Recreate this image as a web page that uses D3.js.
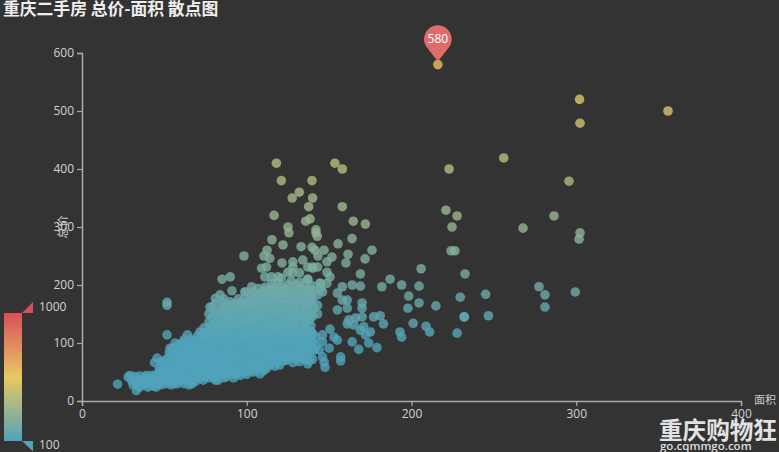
<!DOCTYPE html>
<html><head><meta charset="utf-8">
<script src="https://cdn.jsdelivr.net/npm/d3@7"></script>
<style>html,body{margin:0;padding:0;background:#333;overflow:hidden}svg{display:block}text{font-family:"Open Sans","Noto Sans CJK SC",sans-serif}</style>
</head><body><svg id="c" width="779" height="452"></svg>
<script>
const titleText = "重庆二手房 总价-面积 散点图";
const xTicks = [0,100,200,300,400];
const yTicks = [0,100,200,300,400,500,600];
const xName = "面积", yName = "总价";
const mapStops = [100,550,1000];
const mapColors = ["#50a3ba","#e9c860","#d94e5d"];
const peak = [216,580];
const denseCloud = [
[28,41],[30,36],[31,28],[29,44],[33,18],[33,30],[32,42],[35,24],[36,34],[35,43],[37,28],[38,40],[40,24],[41,32],[42,44],[40,38],[43,26],
[45,24],[46,35],[45,46],[47,56],[44,66],[45.6,74],[48,28],[48.5,40],[49,62],[51,30],[52,42],[50,52],[51,72],[53,84],[53.4,91],[54,28],[55,37],[55,50],[55,62],[56,76],[56.5,100],[55,90],
[58,30],[59,42],[60,54],[59,66],[60,78],[59,90],[61,100],[62,30],[63,44],[63,58],[64,72],[64,86],[64,100],[64,114],[65,28],
[67,36],[68,48],[68,62],[68,76],[68,90],[68,104],[71,40],[72,54],[72,68],[71,82],[72,96],[71.6,119],[72,108],[73.6,36],
[75,44],[76,58],[76,72],[75,86],[76,100],[75,114],[77.7,128],[79,131],[79,48],[80,40],[80,62],[80,76],[79,90],[80,104],[80,118],[79,145],[77.7,162],[79,162],[82,148],[81,177],
[82.6,36],[84,46],[84,60],[85,74],[84,88],[85,102],[84,116],[85,130],[84,142],[85,156],[83.8,183],[85,170],[88,42],[88,56],[89,70],[88,84],[89,98],[88,112],[89,126],[88,140],[89,154],[88,166],
[92,40],[93,54],[92,68],[93,82],[92,96],[93,110],[92,124],[93,138],[92,152],[93,169],[90,171],[96,44],[97,58],[96,72],[97,86],[96,100],[97,114],[96,128],[97,142],[96,156],[97,170],[99,177],[99,188],
[100,46],[101,60],[100,74],[101,88],[100,102],[101,116],[100,130],[101,144],[100,158],[101,170],[104,188],[103,197],[104,50],[105,64],[104,78],[105,92],[104,106],[105,120],[104,134],[105,148],[104,162],[105,176],
[108,47],[109,60],[108,72],[109,86],[108,100],[109,114],[108,128],[109,142],[108,156],[108,171],[109,185],[112,56],[113,70],[112,84],[113,98],[112,112],[113,126],[112,140],[113,154],[112,168],[113,182],[111,196],
[117,60],[116,74],[117,88],[116,102],[117,116],[116,130],[117,144],[116,158],[117,172],[116,191],[116,195],[120,62],[121,76],[120,90],[121,104],[120,118],[121,132],[120,146],[121,160],[120,174],[121,197],[121,186],
[124,70],[125,84],[124,98],[125,112],[124,126],[125,140],[124,154],[125,168],[124,186],[125,200],[128,66],[129,80],[128,94],[129,108],[128,122],[129,136],[128,150],[129,164],[128,178],[130,192],[130,200],
[132,68],[133,82],[132,96],[133,110],[132,124],[133,138],[132,152],[133,166],[132,180],[132,205],[134,192],[137,64],[136,78],[137,92],[136,106],[137,120],[136,134],[137,148],[136,162],[137,176],[137,190],[137,210],
[140,72],[141,88],[140,100],[140,116],[139,130],[140,146],[141,160],[140,172],[141,190],[144,88],[144.5,203],[148.7,203],[146,188]
];
const denseFill = [
[31,36],[34,37],[37,34],[39,30],[39,44],[42,38],[44,30],[46,29],[47,42],[47,50],[48,68],[49,50],[50,38],[52,36],[52,60],[53,48],[53,76],[54,68],
[57,34],[57,46],[57,58],[57,70],[57,84],[58,96],[60,36],[61,48],[61,60],[61,72],[61,84],[62,92],[62,106],[63,38],[65,36],[66,50],[66,64],[66,78],[66,92],[66,106],[67,30],
[69,42],[70,55],[70,69],[70,83],[70,97],[70,112],[73,47],[74,61],[74,75],[74,89],[74,103],[74,118],[74,126],
[77,40],[78,52],[78,65],[78,79],[78,93],[78,107],[78,121],[77,136],[77,150],[81,44],[82,55],[82,69],[82,83],[82,97],[82,111],[82,125],[82,137],[81,155],[81,168],
[86,40],[86,53],[86,67],[86,81],[86,95],[86,109],[86,123],[86,137],[86,149],[86,163],[86,176],[90,47],[90,61],[90,75],[90,91],[90,105],[90,119],[90,133],[90,147],[90,161],
[94,47],[95,61],[94,75],[95,89],[94,103],[95,117],[94,131],[95,145],[94,159],[95,176],[98,50],[99,65],[98,79],[99,93],[98,107],[99,121],[98,135],[99,149],[98,163],
[102,53],[103,67],[102,81],[103,95],[102,109],[103,123],[102,137],[103,151],[102,165],[102,180],[106,55],[107,69],[106,85],[107,99],[106,113],[107,127],[106,141],[107,155],[106,169],[106,183],[107,194],
[110,52],[111,65],[110,79],[111,93],[110,107],[111,121],[110,135],[111,149],[110,163],[110,177],[110,190],[114,62],[115,77],[114,91],[115,105],[114,119],[115,133],[114,147],[115,161],[114,175],[114,187],[115,203],
[118,67],[119,81],[118,95],[119,109],[118,123],[119,137],[118,151],[119,165],[118,180],[119,205],[122,69],[123,83],[122,97],[123,111],[122,125],[123,139],[122,153],[123,167],[122,180],[123,193],
[126,73],[127,87],[126,101],[127,115],[126,129],[127,143],[126,157],[127,171],[126,192],[127,207],[130,73],[131,87],[130,101],[131,115],[130,129],[131,143],[130,157],[131,171],[130,185],
[134,75],[135,89],[134,103],[135,117],[134,127],[135,141],[134,155],[135,169],[134,183],[135,200],[138,70],[139,84],[138,98],[139,110],[138,140],[139,154],[138,168],[139,182],[139,200],[142,95],[142,110],[143,150],[143,165],[143,183],[145,195]
];
const denseCore = [
[48,34],[50,46],[52,54],[54,43],[56,30],[56,55],[58,50],[58,76],[60,44],[60,66],[62,54],[62,80],[64,40],[64,66],[65,94],[67,56],[67,72],[67,86],[69,34],[69,50],[69,98],[71,62],[71,76],[71,90],[73,42],[73,56],[73,82],[73,112],
[75,52],[75,66],[75,94],[77,46],[77,76],[77,86],[77,112],[79,58],[79,70],[79,98],[79,124],[81,36],[81,50],[81,90],[81,116],[81,132],[83,64],[83,78],[83,106],[83,152],[85,50],[85,94],[85,122],[85,136],[87,62],[87,76],[87,102],[87,130],[87,158],
[89,48],[89,88],[89,116],[89,144],[91,56],[91,84],[91,112],[91,140],[91,166],[93,46],[93,74],[93,102],[93,130],[93,158],[95,54],[95,82],[95,110],[95,138],[95,166],[97,64],[97,92],[97,120],[97,148],[97,160],
[99,56],[99,84],[99,112],[99,140],[99,168],[101,52],[101,80],[101,108],[101,136],[101,164],[103,60],[103,88],[103,116],[103,144],[103,172],[105,70],[105,98],[105,126],[105,154],[105,184],[107,58],[107,90],[107,118],[107,146],[107,176],
[109,66],[109,94],[109,122],[109,150],[109,178],[111,58],[111,86],[111,114],[111,142],[111,170],[113,76],[113,104],[113,132],[113,160],[113,190],[115,68],[115,96],[115,124],[115,152],[115,180],[117,80],[117,108],[117,136],[117,164],[117,186],
[119,72],[119,100],[119,128],[119,156],[119,192],[121,84],[121,112],[121,140],[121,168],[123,76],[123,104],[123,132],[123,160],[123,186],[125,92],[125,120],[125,148],[125,176],[127,78],[127,106],[127,134],[127,162],[127,186],
[129,88],[129,116],[129,144],[129,172],[131,78],[131,104],[131,124],[131,152],[131,178],[133,90],[133,118],[133,146],[133,174],[135,72],[135,98],[135,126],[135,154],[135,186],[137,84],[137,112],[137,142],[137,168],[139,92],[139,120],[139,148],[139,176],[139,192]
];
const scatterMid = [
[146,76],[147,67],[147.5,58],[146,102],[146,114],[150.5,124],[150,91],[153,110],[155,105],[157,76],[157,69],[164,102],[168,89],[179,92],[174,100],[172,114],[175,119],[171,128],[169,122],[183,133],[181,147],[177,145],[170,145],[166,143],[162,140],[161,133],[165,131],[170,169],[170,160],[161,160],[155,157],[158,174],[161,174],[158,197],[155,186],[164,200],[169,198],[169,219],[187,210],[182,197],
[51.6,165],[51.6,170],[51.6,114],[85,210],[90,214],[91,190],[99,188],[111,214],[115,214],[119,214],[121,212],[116,195],[124,186],[125,222],[127.6,221],[132,221],[140,229],[137,210],[150.5,214],[148.7,222],[144.5,203],
[109,229],[112,231],[137,231],[140,231],[143,231],[128,231],[128,240],[121.4,238],[134,243],[148.7,240],[160.2,238],[98.3,250],[110.5,250],[114,246],[143.2,250],[151.7,248],[161.5,253],[171.8,245],[112.3,260],[141.4,260],[146.9,260],[176,260],[133,266],[139.6,265],[122,269],[155.4,271],[115.3,278],[163.9,280],[142.8,284],[142,290],[142,295],[125.6,290],[125,300],[172,305],[164.7,310],[135.8,310],[138.4,314],[116.6,320],[137.6,335],[158,335],[127.6,350],[140,350],[131.9,360],[121,380],[139.6,380],[158,400],[118,410],[153.5,410]
];
const scatterFar = [
[302,520],[355.7,500],[302.3,479],[256,419],[222.8,400],[295.6,379],[220.9,329],[227.7,319],[286.5,319],[224.6,300],[267.7,298],[302.3,290],[301.7,279],[224,259],[226.4,259],[205.8,228],[232.5,219],[194,200],[204.6,198],[277.4,197],[281,183],[245,184],[299.4,188],[198.3,181],[229.6,179],[204.6,169],[214.8,164],[197.8,160],[281,162],[232,145],[232,145],[246.7,147],[201,134],[208.8,129],[211,119],[227.7,117],[193,119],[194,110],[21.6,29]
];
const svg = d3.select("#c");
const x = d3.scaleLinear().domain([0,400]).range([82,741]);
const y = d3.scaleLinear().domain([0,600]).range([401,53]);
const color = d3.scaleLinear().domain(mapStops).range(mapColors).clamp(true);
svg.append("rect").attr("width",779).attr("height",452).attr("fill","#333");
svg.append("text").attr("x",3).attr("y",15).attr("font-size",16.8).attr("font-weight",700).attr("fill","#eee").style("font-family",'"Noto Sans CJK SC",sans-serif').text(titleText);
const styleAxis = g => {
  g.select(".domain").attr("stroke","#aaa").attr("stroke-width",1.5);
  g.selectAll(".tick line").attr("stroke","#aaa").attr("stroke-width",1.2);
  g.selectAll(".tick text").attr("fill","#d2d2d2").attr("font-size",12).style("font-family",'"Open Sans",sans-serif');
};
svg.append("g").attr("transform","translate(0,401)").call(d3.axisBottom(x).tickValues(xTicks).tickSize(5).tickPadding(3)).call(styleAxis);
svg.append("g").attr("transform","translate(82,0)").call(d3.axisLeft(y).tickValues(yTicks).tickSize(5).tickPadding(3)).call(styleAxis);
svg.append("text").attr("x",754).attr("y",404).attr("font-size",11).attr("fill","#ccc").style("font-family",'"Noto Sans CJK SC",sans-serif').text(xName);
svg.append("text").attr("transform","translate(67,227) rotate(-90)").attr("text-anchor","middle").attr("font-size",11.5).attr("fill","#ccc").style("font-family",'"Noto Sans CJK SC",sans-serif').text(yName);
const all = denseCloud.concat(denseFill, denseCore, scatterMid, scatterFar, [peak]);
svg.append("g").selectAll("circle").data(all).join("circle")
  .attr("cx",d=>x(d[0])).attr("cy",d=>y(d[1])).attr("r",4.8)
  .attr("fill",d=>color(d[1])).attr("opacity",0.8);
// pin on the maximum
const tipX = x(peak[0]), tipY = y(peak[1])-3, pinR = 13.8, cy0 = tipY-22.5;
const a = Math.asin(pinR/(tipY-cy0));
const tx = pinR*Math.cos(a), ty = cy0+pinR*Math.sin(a);
svg.append("path").attr("d",`M${tipX},${tipY}L${tipX-tx},${ty}A${pinR},${pinR} 0 1 1 ${tipX+tx},${ty}Z`).attr("fill","#e06c6a");
svg.append("text").attr("x",tipX).attr("y",cy0+4).attr("text-anchor","middle").attr("font-size",12).attr("fill","#fff").text(peak[1]);
// visual map
const mapY = d3.scaleLinear().domain([100,1000]).range([441,313]);
const defs = svg.append("defs");
const grad = defs.append("linearGradient").attr("id","vm").attr("x1",0).attr("y1",1).attr("x2",0).attr("y2",0);
mapStops.forEach((s,i)=>grad.append("stop").attr("offset",(s-100)/900).attr("stop-color",mapColors[i]));
svg.append("rect").attr("x",4).attr("y",mapY(1000)).attr("width",18).attr("height",mapY(100)-mapY(1000)).attr("fill","url(#vm)");
svg.append("path").attr("d",`M22,${mapY(1000)}L33,${mapY(1000)}L33,${mapY(1000)-11}Z`).attr("fill",mapColors[2]);
svg.append("path").attr("d",`M22,${mapY(100)}L33,${mapY(100)}L33,${mapY(100)+10.5}Z`).attr("fill",mapColors[0]);
svg.append("text").attr("x",39).attr("y",mapY(1000)-2.5).attr("font-size",12).attr("fill","#d2d2d2").text("1000");
svg.append("text").attr("x",39).attr("y",mapY(100)+8).attr("font-size",12).attr("fill","#d2d2d2").text("100");
// watermark
svg.append("text").attr("x",659).attr("y",439).attr("font-size",23.6).attr("font-weight",700).attr("fill","#e2e2e2").style("font-family",'"Noto Sans CJK SC",sans-serif').text("重庆购物狂");
svg.append("text").attr("x",660).attr("y",449.5).attr("font-size",11.5).attr("font-weight",600).attr("fill","#ddd").text("go.cqmmgo.com");
</script></body></html>
